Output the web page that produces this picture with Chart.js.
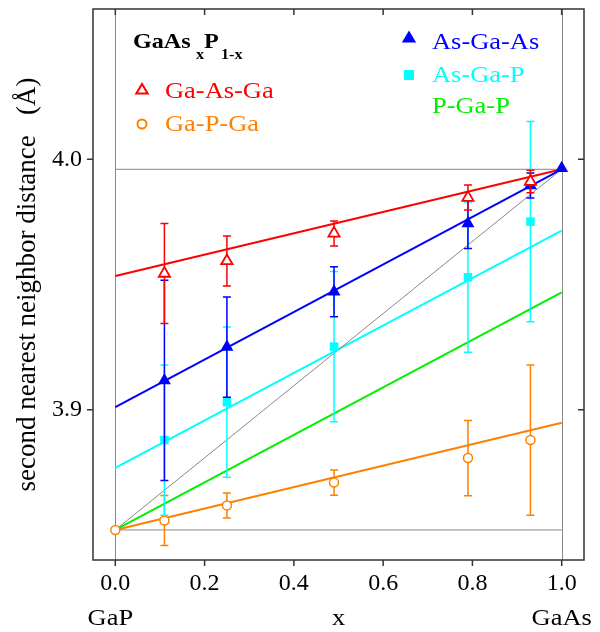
<!DOCTYPE html>
<html>
<head>
<meta charset="utf-8">
<script src="https://cdn.jsdelivr.net/npm/chart.js@4"></script>
<style>
  body { margin: 0; background: #fff; }
  #wrap { width: 600px; height: 632px; }
</style>
</head>
<body>
<div id="wrap"><canvas id="distChart"></canvas></div>
<script>
// compositions x of GaAs(x)P(1-x) where a measurement exists
const xPoints = [0.11, 0.25, 0.49, 0.79, 0.93];
const xAsGaAs = [0.11, 0.25, 0.49, 0.79, 0.93, 1.0];
const xGaPGa = [0, 0.11, 0.25, 0.49, 0.79, 0.93];

// measured second-neighbour distances (Angstrom) and their errors
const gaAsGa = [3.9544, 3.9594, 3.9704, 3.9847, 3.9911];
const gaAsGaErr = [0.020, 0.010, 0.005, 0.005, 0.0045];
const asGaAs = [3.9117, 3.925, 3.9471, 3.9744, 3.9895, 3.9964];
const asGaAsErr = [0.040, 0.020, 0.010, 0.010, 0.005, 0];
const asGaP = [3.8879, 3.903, 3.9252, 3.9529, 3.9751];
const asGaPErr = [0.030, 0.030, 0.030, 0.030, 0.040];
const gaPGa = [3.852, 3.8558, 3.8618, 3.8709, 3.8807, 3.8879];
const gaPGaErr = [0, 0.010, 0.005, 0.005, 0.015, 0.030];

// fitted lines, values at x = 0 and x = 1
const fitX = [0, 1];
const fitGaAsGa = [3.9534, 3.996];
const fitAsGaAs = [3.901, 3.996];
const fitAsGaP = [3.8768, 3.9715];
const fitPGaP = [3.852, 3.9469];
const fitGaPGa = [3.852, 3.8948];
const vegard = [3.852, 3.996];   // GaP -> GaAs
const refGaP = [3.852, 3.852];
const refGaAs = [3.996, 3.996];

// axes
const xTickValues = [0, 0.1, 0.2, 0.3, 0.4, 0.5, 0.6, 0.7, 0.8, 0.9, 1.0];
const xTickLabels = ['0.0', '', '0.2', '', '0.4', '', '0.6', '', '0.8', '', '1.0'];
const yTickValues = [3.84, 3.86, 3.88, 3.90, 3.92, 3.94, 3.96, 3.98, 4.00, 4.02, 4.04, 4.06];
const yTickLabels = ['', '', '', '3.9', '', '', '', '', '4.0', '', '', ''];

const RED = '#ff0000', BLUE = '#0000ff', CYAN = '#00ffff', GREEN = '#00f000', ORANGE = '#ff8000', GRAY = '#888888';
const SERIF = "'Liberation Serif', 'Times New Roman', serif";

function pts(xs, ys) {
  return xs.map((x, i) => ({ x: x, y: ys[i] }));
}

function lineSet(ys, color, width) {
  return {
    type: 'line', data: pts(fitX, ys), borderColor: color, borderWidth: width,
    pointRadius: 0, fill: false, order: 10
  };
}

function markerSet(label, xs, ys, errs, style) {
  return Object.assign({
    label: label, data: pts(xs, ys), errors: errs, showLine: false
  }, style);
}

// stretched serif text, the reference type is a bit wider than normal
function stext(ctx, s, x, y, font, color, align) {
  ctx.save();
  ctx.font = font;
  ctx.fillStyle = color;
  ctx.textBaseline = 'alphabetic';
  const w = ctx.measureText(s).width * 1.15;
  let x0 = x;
  if (align === 'center') x0 = x - w / 2;
  if (align === 'right') x0 = x - w;
  ctx.translate(x0, y);
  ctx.scale(1.15, 1);
  ctx.fillText(s, 0, 0);
  ctx.restore();
}

function triangle(ctx, cx, cy, r, fill, color) {
  ctx.beginPath();
  ctx.moveTo(cx, cy - r);
  ctx.lineTo(cx + r * 0.95, cy + r * 0.6);
  ctx.lineTo(cx - r * 0.95, cy + r * 0.6);
  ctx.closePath();
  if (fill) { ctx.fillStyle = color; ctx.fill(); }
  else { ctx.strokeStyle = color; ctx.lineWidth = 2; ctx.stroke(); }
}

function drawErrors(chart, ds) {
  const ctx = chart.ctx, xs = chart.scales.x, ys = chart.scales.y;
  ctx.save();
  ctx.strokeStyle = ds.errColor;
  ctx.lineWidth = 1.5;
  ds.data.forEach((p, i) => {
    const e = ds.errors[i];
    if (!e) return;
    const px = xs.getPixelForValue(p.x);
    const top = ys.getPixelForValue(p.y + e);
    const bot = ys.getPixelForValue(p.y - e);
    ctx.beginPath();
    ctx.moveTo(px, top); ctx.lineTo(px, bot);
    ctx.moveTo(px - 4, top); ctx.lineTo(px + 4, top);
    ctx.moveTo(px - 4, bot); ctx.lineTo(px + 4, bot);
    ctx.stroke();
  });
  ctx.restore();
}

const decorPlugin = {
  id: 'decor',
  beforeDatasetsDraw(chart) {
    // gray vertical lines at the end members
    const ctx = chart.ctx, a = chart.chartArea, xs = chart.scales.x;
    ctx.save();
    ctx.strokeStyle = GRAY;
    ctx.lineWidth = 1;
    [0, 1].forEach(v => {
      const px = Math.round(xs.getPixelForValue(v)) + 0.5;
      ctx.beginPath();
      ctx.moveTo(px, a.top); ctx.lineTo(px, a.bottom);
      ctx.stroke();
    });
    ctx.restore();
  },
  beforeDatasetDraw(chart, args) {
    const ds = chart.data.datasets[args.index];
    if (ds.errors) drawErrors(chart, ds);
  },
  afterDraw(chart) {
    const ctx = chart.ctx, a = chart.chartArea, sx = chart.scales.x, sy = chart.scales.y;
    ctx.save();
    // frame and tick marks
    ctx.strokeStyle = '#333';
    ctx.lineWidth = 1.5;
    ctx.strokeRect(a.left, a.top, a.right - a.left, a.bottom - a.top);
    ctx.beginPath();
    sx.ticks.forEach(t => {
      const px = sx.getPixelForValue(t.value);
      const len = t.label ? 6 : 4;
      ctx.moveTo(px, a.bottom); ctx.lineTo(px, a.bottom + len);
      ctx.moveTo(px, a.top); ctx.lineTo(px, a.top + len);
    });
    sy.ticks.forEach(t => {
      const py = sy.getPixelForValue(t.value);
      const len = t.label ? 6 : 4;
      ctx.moveTo(a.left, py); ctx.lineTo(a.left - len, py);
      ctx.moveTo(a.right, py); ctx.lineTo(a.right - len, py);
    });
    ctx.stroke();

    // bottom captions
    const capFont = '23px ' + SERIF;
    stext(ctx, 'GaP', sx.getPixelForValue(0) - 5, 625, capFont, '#000', 'center');
    stext(ctx, 'x', sx.getPixelForValue(0.5), 625, capFont, '#000', 'center');
    stext(ctx, 'GaAs', sx.getPixelForValue(1), 625, capFont, '#000', 'center');

    // compound name
    stext(ctx, 'GaAs', 133, 48, 'bold 21px ' + SERIF, '#000');
    stext(ctx, 'x', 196, 59, 'bold 14px ' + SERIF, '#000');
    stext(ctx, 'P', 204, 48, 'bold 21px ' + SERIF, '#000');
    stext(ctx, '1-x', 221, 59, 'bold 14px ' + SERIF, '#000');

    // legend
    const lf = '23px ' + SERIF;
    triangle(ctx, 142, 90, 6, false, RED);
    stext(ctx, 'Ga-As-Ga', 165, 98, lf, RED);
    ctx.beginPath();
    ctx.arc(142, 124, 4.5, 0, Math.PI * 2);
    ctx.strokeStyle = ORANGE; ctx.lineWidth = 2; ctx.stroke();
    stext(ctx, 'Ga-P-Ga', 165, 131, lf, ORANGE);

    triangle(ctx, 409, 38, 7.5, true, BLUE);
    stext(ctx, 'As-Ga-As', 432, 49, lf, BLUE);
    ctx.fillStyle = CYAN;
    ctx.fillRect(404, 70, 10, 10);
    stext(ctx, 'As-Ga-P', 432, 82, lf, CYAN);
    stext(ctx, 'P-Ga-P', 432, 113, lf, GREEN);
    ctx.restore();
  }
};

Chart.defaults.font.family = SERIF;
Chart.defaults.color = '#000';

new Chart(document.getElementById('distChart'), {
  type: 'scatter',
  data: {
    datasets: [
      lineSet(refGaAs, GRAY, 1),
      lineSet(refGaP, GRAY, 1),
      lineSet(vegard, GRAY, 1),
      lineSet(fitPGaP, GREEN, 2),
      lineSet(fitGaPGa, ORANGE, 2),
      lineSet(fitAsGaP, CYAN, 2),
      lineSet(fitAsGaAs, BLUE, 2),
      lineSet(fitGaAsGa, RED, 2),
      markerSet('Ga-P-Ga', xGaPGa, gaPGa, gaPGaErr, {
        pointStyle: 'circle', pointRadius: 4.5, borderWidth: 1.5,
        borderColor: ORANGE, backgroundColor: '#fff', errColor: ORANGE, order: 4
      }),
      markerSet('As-Ga-P', xPoints, asGaP, asGaPErr, {
        pointStyle: 'rect', pointRadius: 6, borderWidth: 0,
        borderColor: CYAN, backgroundColor: CYAN, errColor: CYAN, order: 3
      }),
      markerSet('As-Ga-As', xAsGaAs, asGaAs, asGaAsErr, {
        pointStyle: 'triangle', pointRadius: 7.5, borderWidth: 0,
        borderColor: BLUE, backgroundColor: BLUE, errColor: BLUE, order: 2
      }),
      markerSet('Ga-As-Ga', xPoints, gaAsGa, gaAsGaErr, {
        pointStyle: 'triangle', pointRadius: 6.5, borderWidth: 1.8,
        borderColor: RED, backgroundColor: '#fff', errColor: RED, order: 1
      })
    ]
  },
  options: {
    responsive: true,
    maintainAspectRatio: false,
    animation: false,
    layout: { padding: { top: 9, right: 16, left: 0, bottom: 0 } },
    plugins: { legend: { display: false }, tooltip: { enabled: false } },
    scales: {
      x: {
        type: 'linear', min: -0.05, max: 1.05,
        grid: { display: false, drawTicks: false },
        border: { display: false },
        afterBuildTicks: s => { s.ticks = xTickValues.map(v => ({ value: v })); },
        afterFit: s => { s.height = 72; s.paddingLeft = 0; s.paddingRight = 0; },
        ticks: {
          padding: 9, maxRotation: 0, autoSkip: false,
          font: { size: 24 },
          callback: (v, i) => xTickLabels[i] || null
        }
      },
      y: {
        type: 'linear', min: 3.84, max: 4.06,
        grid: { display: false, drawTicks: false },
        border: { display: false },
        afterBuildTicks: s => { s.ticks = yTickValues.map(v => ({ value: v })); },
        afterFit: s => { s.width = 93; s.paddingTop = 0; s.paddingBottom = 0; },
        ticks: {
          padding: 11, autoSkip: false,
          font: { size: 24 },
          callback: (v, i) => yTickLabels[i] || null
        },
        title: {
          display: true,
          text: 'second nearest neighbor distance   (Å)',
          font: { size: 27 },
          padding: { top: 12, bottom: 0 }
        }
      }
    }
  },
  plugins: [decorPlugin]
});
</script>
</body>
</html>
